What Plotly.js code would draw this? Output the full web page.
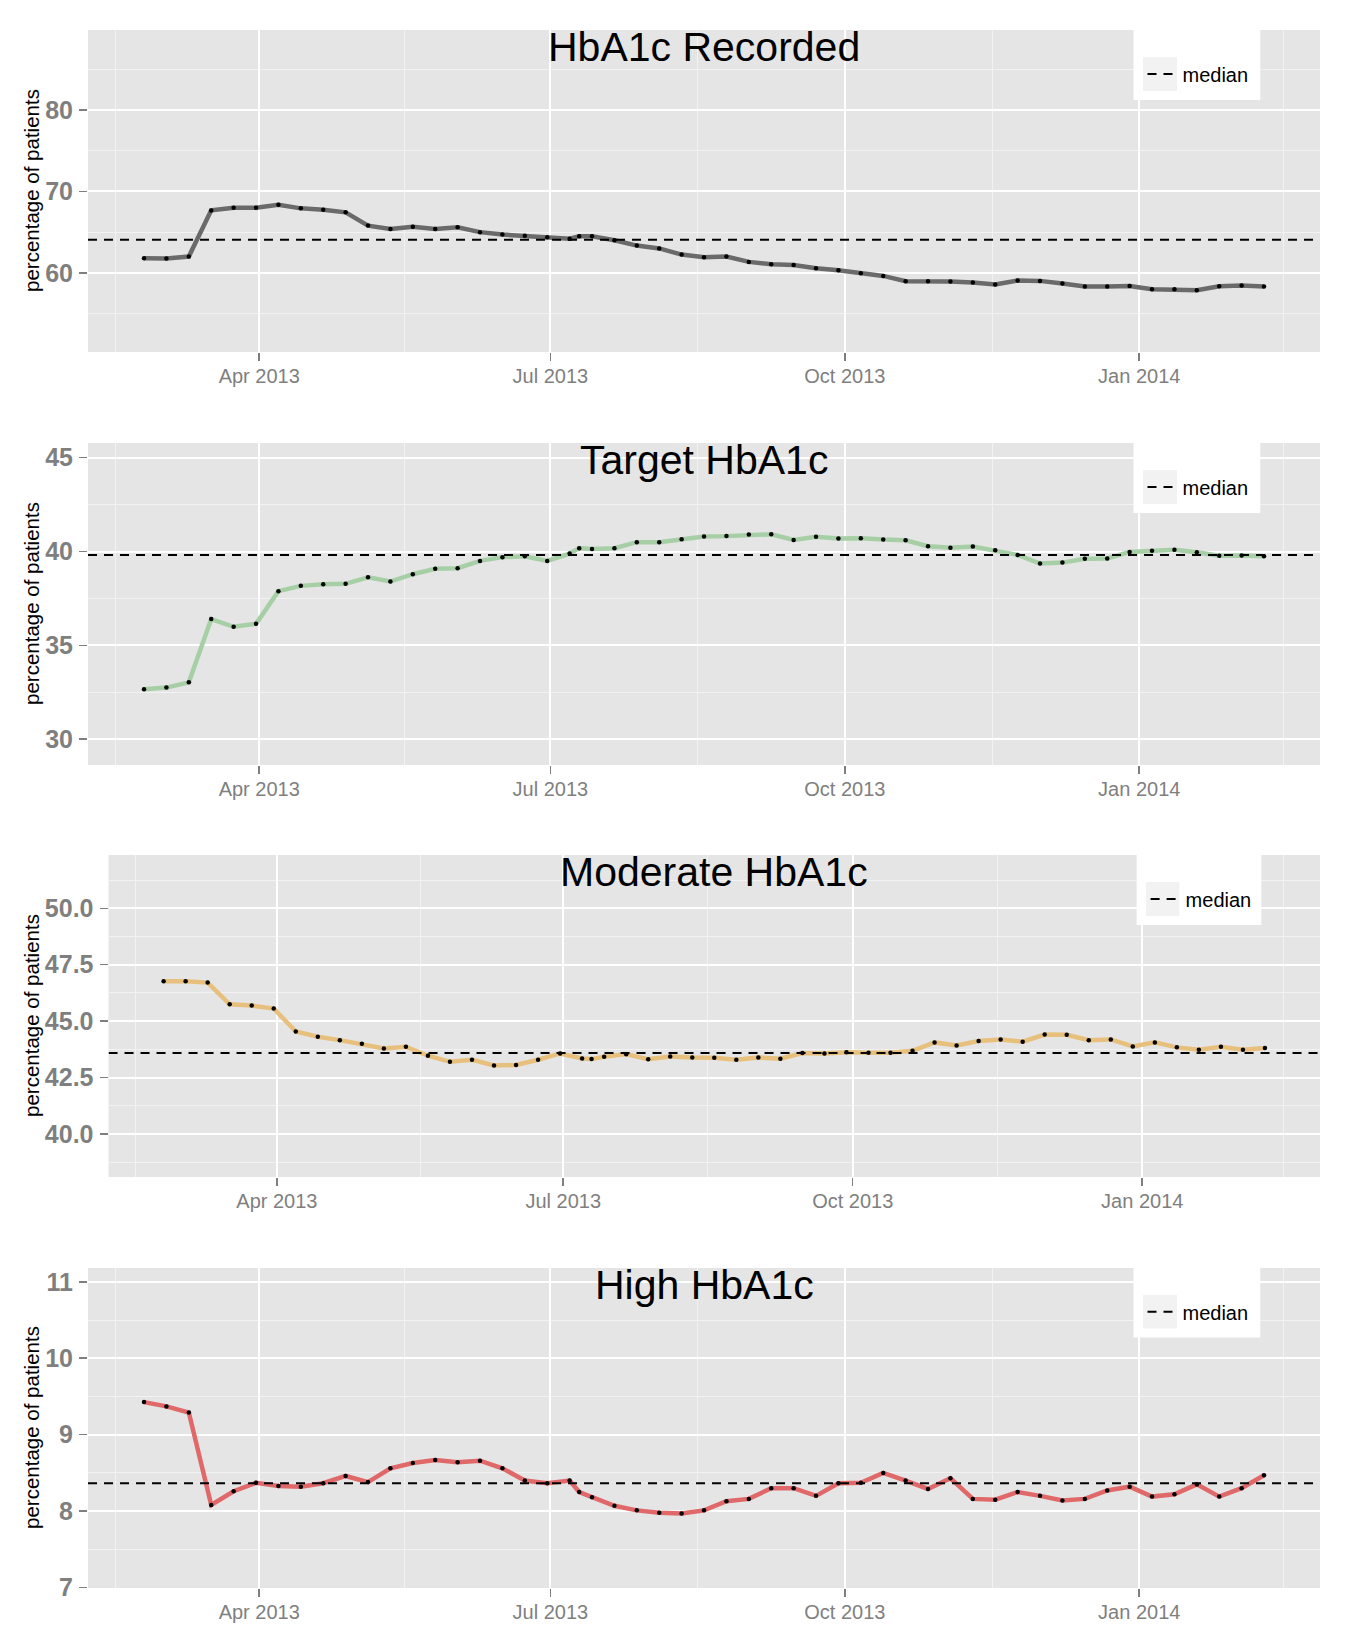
<!DOCTYPE html>
<html>
<head>
<meta charset="utf-8">
<script src="https://cdn.plot.ly/plotly-3.0.1.min.js"></script>
<style>
  body { margin: 0; background: #fff; }
  #chart { width: 1350px; height: 1650px; }
</style>
</head>
<body>
<div id="chart"></div>
<script>
// Weekly HbA1c audit figures, Feb 2013 - Feb 2014 (one extra reading on 10 Jul)
const weeks = [
  '2013-02-24', '2013-03-03', '2013-03-10', '2013-03-17', '2013-03-24', '2013-03-31',
  '2013-04-07', '2013-04-14', '2013-04-21', '2013-04-28', '2013-05-05', '2013-05-12',
  '2013-05-19', '2013-05-26', '2013-06-02', '2013-06-09', '2013-06-16', '2013-06-23',
  '2013-06-30', '2013-07-07', '2013-07-10', '2013-07-14', '2013-07-21', '2013-07-28',
  '2013-08-04', '2013-08-11', '2013-08-18', '2013-08-25', '2013-09-01', '2013-09-08',
  '2013-09-15', '2013-09-22', '2013-09-29', '2013-10-06', '2013-10-13', '2013-10-20',
  '2013-10-27', '2013-11-03', '2013-11-10', '2013-11-17', '2013-11-24', '2013-12-01',
  '2013-12-08', '2013-12-15', '2013-12-22', '2013-12-29', '2014-01-05', '2014-01-12',
  '2014-01-19', '2014-01-26', '2014-02-02', '2014-02-09'
];

const recorded = [61.8, 61.76, 62.0, 67.67, 68.0, 68.0, 68.37, 67.92, 67.76, 67.43,
  65.8, 65.4, 65.67, 65.4, 65.6, 65.0, 64.7, 64.57, 64.37, 64.2,
  64.5, 64.5, 64.0, 63.35, 63.0, 62.25, 61.92, 62.0, 61.35, 61.06,
  60.98, 60.57, 60.33, 59.96, 59.63, 58.98, 58.98, 58.94, 58.82, 58.57,
  59.06, 59.02, 58.7, 58.33, 58.33, 58.4, 58.0, 58.0, 57.88, 58.37,
  58.45, 58.33];

const target = [32.66, 32.75, 33.03, 36.4, 35.99, 36.15, 37.89, 38.17, 38.26, 38.28,
  38.63, 38.4, 38.79, 39.08, 39.11, 39.5, 39.7, 39.75, 39.5, 39.89,
  40.18, 40.14, 40.18, 40.5, 40.5, 40.66, 40.8, 40.82, 40.9, 40.92,
  40.62, 40.78, 40.69, 40.71, 40.64, 40.6, 40.28, 40.2, 40.27, 40.07,
  39.82, 39.36, 39.41, 39.61, 39.63, 39.98, 40.04, 40.09, 39.96, 39.77,
  39.79, 39.75];

const moderate = [46.77, 46.77, 46.71, 45.75, 45.69, 45.56, 44.54, 44.31, 44.16, 44.0,
  43.79, 43.87, 43.47, 43.2, 43.29, 43.04, 43.06, 43.29, 43.57, 43.35,
  43.32, 43.42, 43.54, 43.31, 43.44, 43.39, 43.38, 43.29, 43.39, 43.34,
  43.59, 43.57, 43.62, 43.6, 43.6, 43.69, 44.06, 43.92, 44.12, 44.19,
  44.09, 44.41, 44.4, 44.16, 44.19, 43.88, 44.06, 43.84, 43.73, 43.87,
  43.73, 43.81];

const high = [9.426, 9.37, 9.29, 8.08, 8.26, 8.37, 8.33, 8.32, 8.365, 8.46,
  8.38, 8.56, 8.63, 8.67, 8.64, 8.66, 8.56, 8.40, 8.365, 8.40,
  8.25, 8.18, 8.07, 8.01, 7.98, 7.97, 8.01, 8.13, 8.16, 8.30,
  8.30, 8.20, 8.365, 8.37, 8.50, 8.40, 8.29, 8.43, 8.16, 8.15,
  8.25, 8.20, 8.14, 8.16, 8.27, 8.32, 8.19, 8.22, 8.35, 8.19,
  8.30, 8.47];

const panelTitles = ['HbA1c Recorded', 'Target HbA1c', 'Moderate HbA1c', 'High HbA1c'];
const medians     = [64.08, 39.82, 43.59, 8.365];
const quarterStarts = ['2013-01-01', '2013-04-01', '2013-07-01', '2013-10-01', '2014-01-01', '2014-04-01'];

// styling / axis setup
const series     = [recorded, target, moderate, high];
const lineColors = ['#6a6a6a', '#a6cfa6', '#e8c07d', '#e06868'];
const xRange     = ['2013-02-06 12:00', '2014-02-26 12:00'];
const yRanges    = [[50.3, 89.8], [28.63, 45.78], [38.1, 52.36], [6.995, 11.18]];
const yDticks    = [10, 5, 2.5, 1];
const yFormats   = ['d', 'd', '.1f', 'd'];
const yDomains   = [[0.7867, 0.9818], [0.5364, 0.7315], [0.2867, 0.4818], [0.0376, 0.2315]];
const xDomains   = [[0.0652, 0.9778], [0.0652, 0.9778], [0.0804, 0.9778], [0.0652, 0.9778]];

const FONT = 'Liberation Sans, Arial, Helvetica, sans-serif';
const GREY = '#7f7f7f';

// minor x grid sits halfway between the quarterly breaks (as ggplot does)
const toStr = ms => new Date(ms).toISOString().slice(0, 19).replace('T', ' ');
const minorX = [];
for (let i = 0; i < quarterStarts.length - 1; i++) {
  const a = Date.parse(quarterStarts[i] + 'T00:00:00Z');
  const b = Date.parse(quarterStarts[i + 1] + 'T00:00:00Z');
  minorX.push(toStr((a + b) / 2));
}

const traces = [];
const layout = {
  width: 1350, height: 1650,
  margin: { l: 0, r: 0, t: 0, b: 0 },
  paper_bgcolor: '#ffffff',
  plot_bgcolor: '#e5e5e5',
  font: { family: FONT, color: '#000' },
  showlegend: true,
  annotations: [],
  shapes: []
};

series.forEach((vals, i) => {
  const n  = i === 0 ? '' : String(i + 1);
  const xa = 'x' + n, ya = 'y' + n;
  const legendId = 'legend' + n;

  traces.push({
    x: weeks, y: vals, xaxis: xa, yaxis: ya,
    type: 'scatter', mode: 'lines+markers', showlegend: false, hoverinfo: 'skip',
    line: { color: lineColors[i], width: 4.5 },
    marker: { color: '#000', size: 4.5 }
  });
  traces.push({
    x: xRange, y: [medians[i], medians[i]], xaxis: xa, yaxis: ya,
    type: 'scatter', mode: 'lines', name: 'median', legend: legendId,
    hoverinfo: 'skip', line: { color: '#000', width: 2, dash: '9px,7px' }
  });

  layout['xaxis' + n] = {
    domain: xDomains[i], anchor: ya, type: 'date', range: xRange,
    tick0: '2013-01-01', dtick: 'M3', tickformat: '%b %Y',
    ticks: 'outside', ticklen: 8, tickwidth: 1.5, tickcolor: GREY,
    ticklabelstandoff: -2,
    tickfont: { size: 20, color: GREY, family: FONT },
    showgrid: true, gridcolor: '#ffffff', gridwidth: 2,
    minor: { tickmode: 'array', tickvals: minorX, showgrid: true,
             gridcolor: '#f2f2f2', gridwidth: 1, ticklen: 0 },
    showline: false, zeroline: false, fixedrange: true
  };
  layout['yaxis' + n] = {
    domain: yDomains[i], anchor: xa, range: yRanges[i],
    tick0: 0, dtick: yDticks[i], tickformat: yFormats[i],
    ticks: 'outside', ticklen: 8, tickwidth: 1.5, tickcolor: GREY,
    ticklabelstandoff: 1,
    tickfont: { size: 25, color: GREY, family: FONT, weight: 'bold' },
    showgrid: true, gridcolor: '#ffffff', gridwidth: 2,
    minor: { dtick: yDticks[i] / 2, showgrid: true,
             gridcolor: '#f2f2f2', gridwidth: 1, ticklen: 0 },
    showline: false, zeroline: false, fixedrange: true
  };

  // legend box and key background (ggplot style)
  layout.shapes.push({
    type: 'rect', xref: xa + ' domain', yref: ya + ' domain', layer: 'above',
    x0: 0.8486, x1: 0.9515, y0: 0.7826, y1: 1.02,
    fillcolor: '#ffffff', line: { width: 0 }
  });
  layout.shapes.push({
    type: 'rect', xref: xa + ' domain', yref: ya + ' domain', layer: 'above',
    x0: 0.8563, x1: 0.8839, y0: 0.8106, y1: 0.916,
    fillcolor: '#f2f2f2', line: { width: 0 }
  });

  const dom = xDomains[i];
  const dh  = yDomains[i][1] - yDomains[i][0];
  layout[legendId] = {
    x: dom[0] + (dom[1] - dom[0]) * 0.8486 + 9 / 1350,
    xanchor: 'left',
    y: yDomains[i][0] + dh * 0.8633,
    yanchor: 'middle',
    bgcolor: 'rgba(0,0,0,0)', borderwidth: 0,
    font: { size: 20, color: '#000', family: FONT }
  };

  layout.annotations.push({
    text: panelTitles[i], xref: xa + ' domain', yref: ya + ' domain',
    x: 0.5, y: 1, xanchor: 'center', yanchor: 'top', yshift: 8,
    showarrow: false, font: { size: 41, color: '#000', family: FONT }
  });
  layout.annotations.push({
    text: 'percentage of patients', xref: 'paper', yref: ya + ' domain',
    x: 32 / 1350, y: 0.5, xanchor: 'center', yanchor: 'middle',
    textangle: -90, showarrow: false,
    font: { size: 20.5, color: '#000', family: FONT }
  });
});

Plotly.newPlot('chart', traces, layout, { staticPlot: true, displayModeBar: false });
</script>
</body>
</html>
